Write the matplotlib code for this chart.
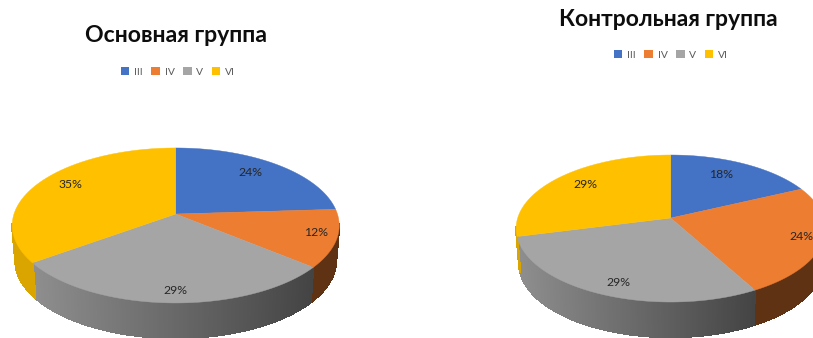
import numpy as np
import matplotlib
matplotlib.use("Agg")
import matplotlib.pyplot as plt
from matplotlib.collections import PolyCollection
from matplotlib.patches import Patch
from matplotlib.colors import to_rgb

plt.rcParams['font.family'] = ['Lato', 'Open Sans', 'DejaVu Sans']

categories = ['III', 'IV', 'V', 'VI']
main_values = [24, 12, 29, 35]
control_values = [18, 24, 29, 29]
main_title = 'Основная группа'
control_title = 'Контрольная группа'
colors = ['#4472C4', '#ED7D31', '#A5A5A5', '#FFC000']
# wall shade (left edge of the slice, right edge of the slice)
wall_shade = [(0.6, 0.6), (0.40, 0.40), (0.86, 0.41), (0.86, 0.86)]


def project(theta, cx, cy, A, B, k):
    u, v = np.sin(theta), np.cos(theta)
    d = 1 + k * v
    return cx + A * u / d, cy - B * v / d


def draw_pie(ax, values, title, cx, cy, A, B, k, depth, title_xy, legend_xy, label_xy, title_size):
    vals = np.asarray(values, float)
    edges = np.concatenate([[0], np.cumsum(vals)]) / vals.sum() * 2 * np.pi
    tt = np.linspace(0, 2 * np.pi, 2881)
    xx, _ = project(tt, cx, cy, A, B, k)
    t_r, t_l = tt[np.argmax(xx)], tt[np.argmin(xx)]
    # side wall: lower rim is slightly narrower because of the perspective
    shrink = 0.98
    for i, c in enumerate(colors):
        a0, a1 = max(edges[i], t_r), min(edges[i + 1], t_l)
        if a1 <= a0:
            continue
        ts = np.linspace(a0, a1, 160)
        x, y = project(ts, cx, cy, A, B, k)
        xb = cx + (x - cx) * shrink
        lo, hi = x.min(), x.max()
        polys, cols = [], []
        base = np.array(to_rgb(c))
        for j in range(len(ts) - 1):
            polys.append([(x[j], y[j] - 1), (x[j + 1], y[j + 1] - 1),
                          (xb[j + 1], y[j + 1] + depth), (xb[j], y[j] + depth)])
            t = ((x[j] + x[j + 1]) / 2 - lo) / max(hi - lo, 1e-6)
            f = wall_shade[i][0] + (wall_shade[i][1] - wall_shade[i][0]) * t
            cols.append(base * f)
        ax.add_collection(PolyCollection(polys, facecolors=cols, edgecolors=cols,
                                         linewidths=1.0, antialiased=False))
    # top surface
    for i, c in enumerate(colors):
        ts = np.linspace(edges[i], edges[i + 1], 200)
        x, y = project(ts, cx, cy, A, B, k)
        ax.fill(np.r_[cx, x], np.r_[cy, y], color=c, lw=0.3, zorder=3)
    for v, (lx, ly) in zip(values, label_xy):
        ax.text(lx, ly, f'{v}%', ha='center', va='center', fontsize=8.8, color='#262626', zorder=4)
    ax.text(*title_xy, title, ha='center', va='center', fontsize=title_size,
            fontweight='bold', color='#0d0d0d')
    handles = [Patch(facecolor=c, label=n) for c, n in zip(colors, categories)]
    ax.legend(handles=handles, ncol=4, loc='center', bbox_to_anchor=legend_xy,
              bbox_transform=ax.transData, frameon=False, fontsize=7.5,
              labelcolor='#595959', handlelength=0.8, handleheight=0.8,
              handletextpad=0.45, columnspacing=0.85, borderpad=0, borderaxespad=0)


fig = plt.figure(figsize=(8.13, 3.38), dpi=100)
ax1 = fig.add_axes([0, 0, 406.5 / 813, 1])
ax1.set_xlim(0, 406.5)
ax2 = fig.add_axes([406.5 / 813, 0, 406.5 / 813, 1])
ax2.set_xlim(406.5, 813)
for ax in (ax1, ax2):
    ax.set_ylim(338, 0)
    ax.axis('off')

draw_pie(ax1, main_values, main_title, 175.7, 214, 161.7, 75.8, 0.148, 35,
         (175.5, 36), (178, 72),
         [(250, 173), (316, 233), (175, 291), (70, 185)], 16.6)
draw_pie(ax2, control_values, control_title, 670.7, 218, 153, 72, 0.143, 35,
         (668, 19), (671, 55),
         [(721, 175), (801, 237), (618, 283), (585, 184)], 16.5)

fig.savefig('out.png', dpi=100)
